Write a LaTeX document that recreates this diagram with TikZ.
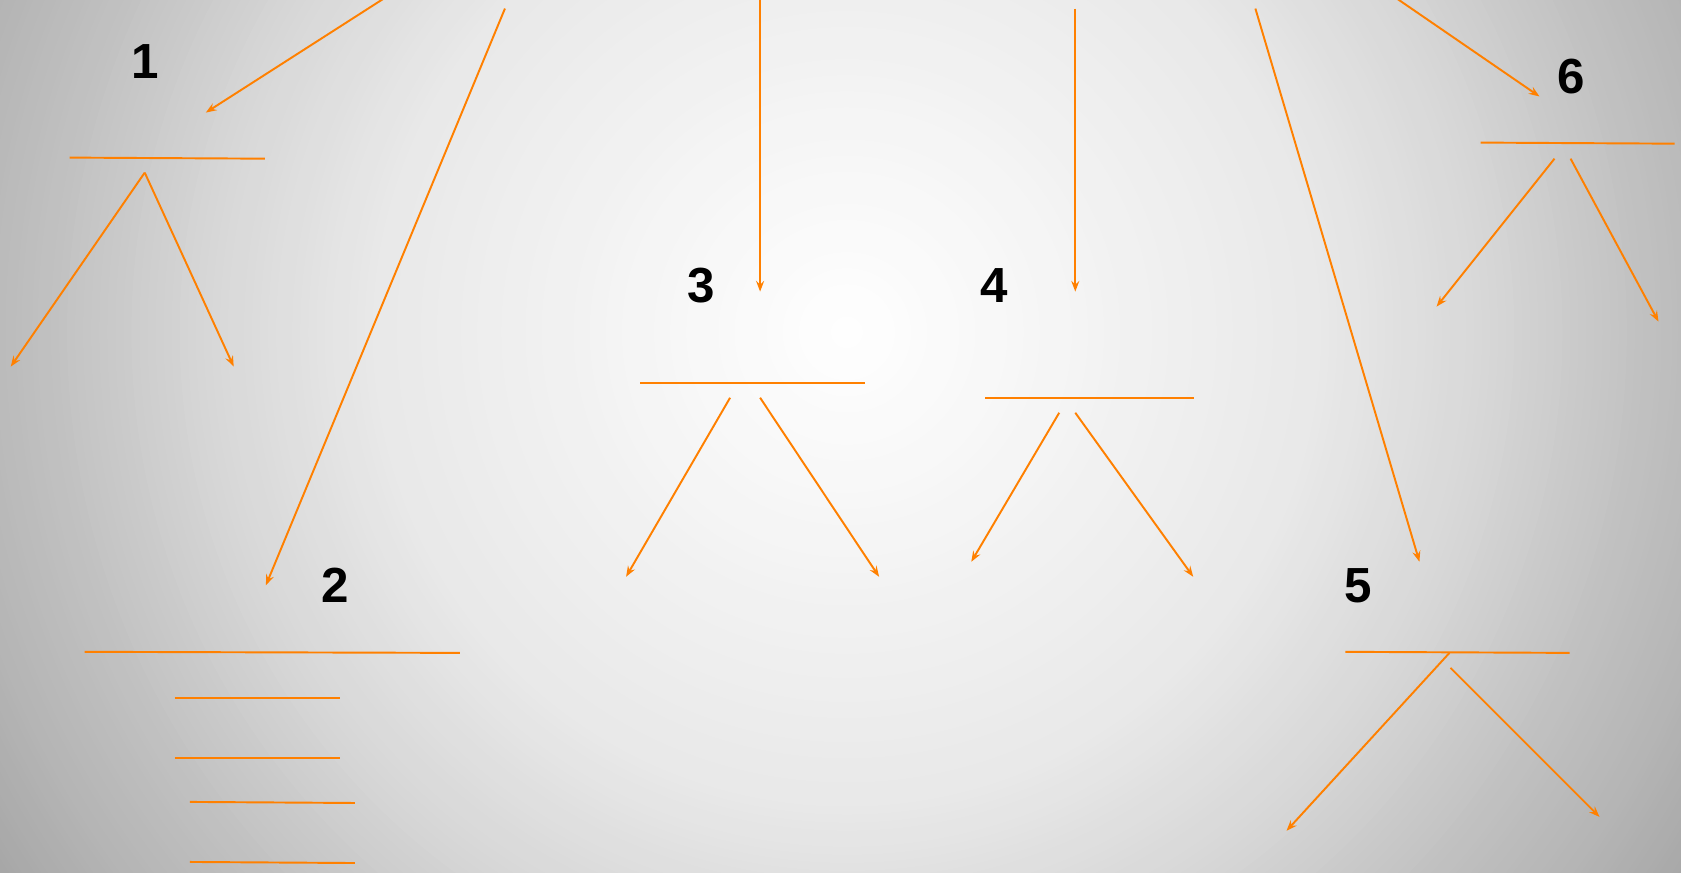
\documentclass[tikz,border=0pt]{standalone}
\usepackage{fontspec}
\setmainfont{Liberation Sans}
\usetikzlibrary{arrows.meta}
\definecolor{orng}{RGB}{255,128,0}
\begin{document}
\begin{tikzpicture}[x=1pt,y=-1pt,
  conn/.style={draw=orng, line width=1.8pt, -{Stealth[length=10pt,width=7.5pt,inset=3.5pt]}},
  bar/.style={draw=orng, line width=1.8pt},
  num/.style={font=\fontsize{46}{46}\selectfont\bfseries, inner sep=0pt, text=black}]
\useasboundingbox (0,0) rectangle (1568,814);
\begin{scope}
\clip (0,0) rectangle (1568,814);
\coordinate (bgc) at (790,310);
\foreach \ra/\pa/\rb/\pb in {1000/38/950/35.3, 950/35.3/850/29.4, 850/29.4/750/24.7, 750/24.7/600/15.7, 600/15.7/450/9, 450/9/300/5.9, 300/5.9/0/0}{
  \foreach \t in {0,0.05,...,0.96}{
    \pgfmathsetmacro\rr{\ra+(\rb-\ra)*\t}
    \pgfmathsetmacro\pp{\pa+(\pb-\pa)*\t}
    \fill[black!\pp] (bgc) circle (\rr pt);
  }}
\end{scope}

% group 1
\node[num] (n1) at (135,57) {1};
\coordinate (s1) at (359,-2); \coordinate (e1) at (192,105);
\coordinate (b1a) at (65,147); \coordinate (b1b) at (247,148);
\coordinate (a1) at (135,161); \coordinate (a1l) at (10,342); \coordinate (a1r) at (218,342);
\draw[conn] (s1) -- (e1);
\draw[bar] (b1a) -- (b1b);
\draw[conn] (a1) -- (a1l);
\draw[conn] (a1) -- (a1r);

% group 2
\node[num] (n2) at (313,546) {2};
\coordinate (s2) at (471,8); \coordinate (e2) at (248,546);
\draw[conn] (s2) -- (e2);
\coordinate (b2a) at (79,608);  \coordinate (b2b) at (429,609);
\coordinate (b2c) at (163,651); \coordinate (b2d) at (317,651);
\coordinate (b2e) at (163,707); \coordinate (b2f) at (317,707);
\coordinate (b2g) at (177,748); \coordinate (b2h) at (331,749);
\coordinate (b2i) at (177,804); \coordinate (b2j) at (331,805);
\draw[bar] (b2a) -- (b2b);
\draw[bar] (b2c) -- (b2d);
\draw[bar] (b2e) -- (b2f);
\draw[bar] (b2g) -- (b2h);
\draw[bar] (b2i) -- (b2j);

% group 3
\node[num] (n3) at (654,266) {3};
\coordinate (s3) at (709,-2); \coordinate (e3) at (709,272);
\draw[conn] (s3) -- (e3);
\coordinate (b3a) at (597,357); \coordinate (b3b) at (807,357);
\draw[bar] (b3a) -- (b3b);
\coordinate (a3l0) at (681,371); \coordinate (a3l) at (584,538);
\coordinate (a3r0) at (709,371); \coordinate (a3r) at (820,538);
\draw[conn] (a3l0) -- (a3l);
\draw[conn] (a3r0) -- (a3r);

% group 4
\node[num] (n4) at (927,266) {4};
\coordinate (s4) at (1003,8); \coordinate (e4) at (1003,272);
\draw[conn] (s4) -- (e4);
\coordinate (b4a) at (919,371); \coordinate (b4b) at (1114,371);
\draw[bar] (b4a) -- (b4b);
\coordinate (a4l0) at (988,385); \coordinate (a4l) at (906,524);
\coordinate (a4r0) at (1003,385); \coordinate (a4r) at (1113,538);
\draw[conn] (a4l0) -- (a4l);
\draw[conn] (a4r0) -- (a4r);

% group 5
\node[num] (n5) at (1267,546) {5};
\coordinate (s5) at (1171,8); \coordinate (e5) at (1324,524);
\draw[conn] (s5) -- (e5);
\coordinate (b5a) at (1255,608); \coordinate (b5b) at (1464,609);
\draw[bar] (b5a) -- (b5b);
\coordinate (a5l0) at (1352,609); \coordinate (a5l) at (1200,775);
\coordinate (a5r0) at (1353,623); \coordinate (a5r) at (1492,762);
\draw[conn] (a5l0) -- (a5l);
\draw[conn] (a5r0) -- (a5r);

% group 6
\node[num] (n6) at (1466,71) {6};
\coordinate (s6) at (1302,-2); \coordinate (e6) at (1436,90);
\draw[conn] (s6) -- (e6);
\coordinate (b6a) at (1381,133); \coordinate (b6b) at (1562,134);
\draw[bar] (b6a) -- (b6b);
\coordinate (a6l0) at (1450,148); \coordinate (a6l) at (1340,286);
\coordinate (a6r0) at (1465,148); \coordinate (a6r) at (1547,300);
\draw[conn] (a6l0) -- (a6l);
\draw[conn] (a6r0) -- (a6r);
\end{tikzpicture}
\end{document}
